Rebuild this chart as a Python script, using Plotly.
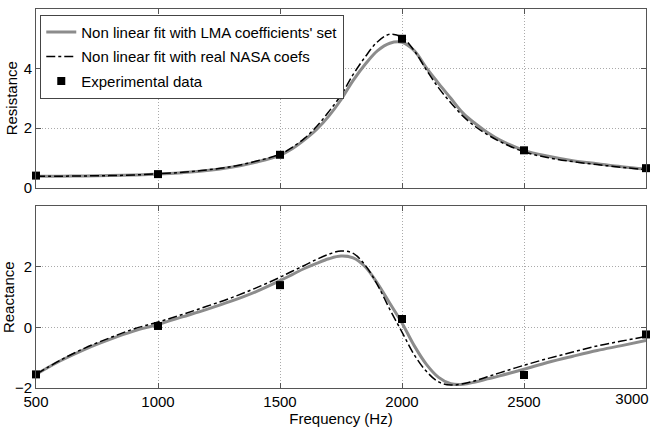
import plotly.graph_objects as go
from plotly.subplots import make_subplots

# Experimental data
exp_freq = [500, 1000, 1500, 2000, 2500, 3000]
exp_res = [0.40, 0.45, 1.10, 5.00, 1.25, 0.65]
exp_rea = [-1.55, 0.05, 1.40, 0.28, -1.57, -0.23]

# Fit curves
fit_freq = [500, 600, 700, 800, 900, 1000, 1100, 1200, 1300, 1400, 1500, 1550, 1600, 1650,
            1700, 1750, 1800, 1850, 1900, 1950, 2000, 2050, 2100, 2150, 2200, 2250, 2300,
            2350, 2400, 2500, 2600, 2700, 2800, 2900, 3000]
lma_res = [0.38, 0.38, 0.39, 0.40, 0.42, 0.45, 0.50, 0.57, 0.68, 0.85, 1.08, 1.30, 1.60, 1.95,
           2.40, 2.95, 3.60, 4.15, 4.60, 4.85, 4.88, 4.60, 4.02, 3.50, 3.00, 2.50, 2.15,
           1.85, 1.60, 1.25, 1.05, 0.90, 0.80, 0.70, 0.62]
nasa_res = [0.38, 0.38, 0.39, 0.40, 0.42, 0.46, 0.51, 0.59, 0.70, 0.88, 1.12, 1.35, 1.65, 2.05,
            2.55, 3.10, 3.80, 4.40, 4.90, 5.15, 5.05, 4.60, 3.95, 3.35, 2.85, 2.40, 2.05,
            1.78, 1.55, 1.20, 1.00, 0.87, 0.77, 0.68, 0.60]
lma_rea = [-1.55, -1.10, -0.72, -0.40, -0.12, 0.10, 0.35, 0.60, 0.87, 1.18, 1.55, 1.75, 1.95, 2.12,
           2.27, 2.36, 2.30, 2.00, 1.45, 0.80, 0.15, -0.60, -1.22, -1.65, -1.86, -1.88, -1.80,
           -1.70, -1.60, -1.38, -1.15, -0.95, -0.76, -0.60, -0.43]
nasa_rea = [-1.55, -1.08, -0.68, -0.35, -0.05, 0.18, 0.43, 0.70, 0.98, 1.30, 1.66, 1.86, 2.05, 2.25,
            2.42, 2.53, 2.45, 2.05, 1.40, 0.60, -0.15, -0.90, -1.45, -1.80, -1.90, -1.86, -1.76,
            -1.63, -1.50, -1.25, -1.02, -0.81, -0.61, -0.45, -0.30]

x_ticks = [500, 1000, 1500, 2000, 2500]
x_last_tick = [3000]
x_grid = [500, 1000, 1500, 2000, 2500, 3000]
res_ticks = [0, 2, 4]
rea_ticks = [-2, 0, 2]

fig = make_subplots(rows=2, cols=1, shared_xaxes=False, vertical_spacing=0.05)

gray = "#8c8c8c"
fig.add_trace(go.Scatter(x=fit_freq, y=lma_res, mode="lines", line=dict(color=gray, width=3, shape="spline"),
                         name="Non linear fit with LMA coefficients' set", legendgroup="a"), row=1, col=1)
fig.add_trace(go.Scatter(x=fit_freq, y=nasa_res, mode="lines", line=dict(color="black", width=1.5, dash="dashdot", shape="spline"),
                         name="Non linear fit with real NASA coefs", legendgroup="b"), row=1, col=1)
fig.add_trace(go.Scatter(x=exp_freq, y=exp_res, mode="markers", marker=dict(symbol="square", color="black", size=8),
                         name="Experimental data", cliponaxis=False, legendgroup="c"), row=1, col=1)
fig.add_trace(go.Scatter(x=fit_freq, y=lma_rea, mode="lines", line=dict(color=gray, width=3, shape="spline"),
                         showlegend=False), row=2, col=1)
fig.add_trace(go.Scatter(x=fit_freq, y=nasa_rea, mode="lines", line=dict(color="black", width=1.5, dash="dashdot", shape="spline"),
                         showlegend=False), row=2, col=1)
fig.add_trace(go.Scatter(x=exp_freq, y=exp_rea, mode="markers", marker=dict(symbol="square", color="black", size=8),
                         showlegend=False, cliponaxis=False), row=2, col=1)
# helper trace so the overlay axis carrying the last tick label is drawn
fig.add_trace(go.Scatter(x=x_last_tick, y=[None], xaxis="x3", yaxis="y2", mode="markers",
                         showlegend=False, hoverinfo="skip"))

axis_common = dict(showline=True, linecolor="#555", linewidth=1, mirror="ticks", ticks="inside",
                   ticklen=5, tickcolor="#555", showgrid=True, gridcolor="#aaa", griddash="1px,2px",
                   gridwidth=1, zeroline=False, tickfont=dict(size=15, color="black"))
fig.update_xaxes(range=[500, 3000], tickvals=x_grid, **axis_common)
fig.update_xaxes(showticklabels=False, row=1, col=1)
fig.update_xaxes(tickvals=x_ticks, row=2, col=1)
fig.update_xaxes(title=dict(text="Frequency (Hz)", font=dict(size=15, color="black"), standoff=0), row=2, col=1)
fig.update_yaxes(**axis_common)
fig.update_yaxes(range=[0, 6], tickvals=res_ticks, title=dict(text="Resistance", font=dict(size=15, color="black"), standoff=2), row=1, col=1)
fig.update_yaxes(range=[-2, 4], tickvals=rea_ticks, title=dict(text="Reactance", font=dict(size=15, color="black"), standoff=2), row=2, col=1)

fig.update_layout(
    width=652, height=430,
    margin=dict(l=36, r=6, t=9, b=42, autoexpand=False),
    paper_bgcolor="white", plot_bgcolor="white",
    font=dict(family="Liberation Sans, Arial, sans-serif", size=15, color="black"),
    yaxis=dict(domain=[0.529, 1.0]),
    yaxis2=dict(domain=[0.0, 0.479]),
    xaxis3=dict(overlaying="x2", anchor="y2", side="bottom", range=[500, 3000], tickvals=x_last_tick,
                showgrid=False, showline=False, zeroline=False, ticks="", ticklabelshift=-14,
                ticklabeloverflow="allow", tickfont=dict(size=15, color="black")),
    legend=dict(x=0.007, y=0.985, xanchor="left", yanchor="top", bgcolor="white",
                bordercolor="#444", borderwidth=1, font=dict(size=15), tracegroupgap=2,
                itemwidth=30),
)

fig.write_html("out.html", config={"displayModeBar": False},
               post_script="document.body.style.margin='0';document.body.style.overflow='hidden';")
